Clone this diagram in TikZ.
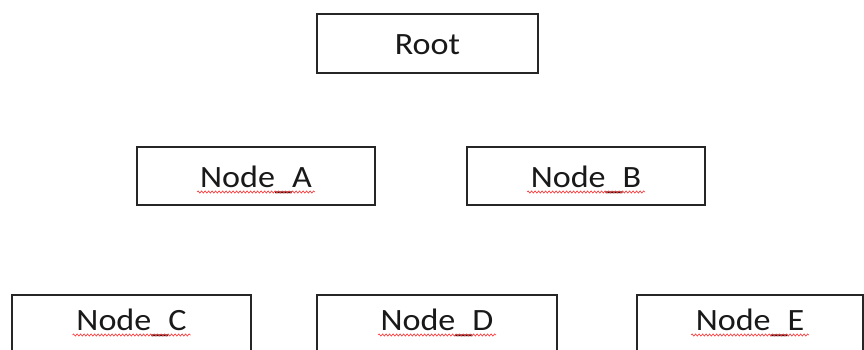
\documentclass[tikz,border=0pt]{standalone}
\usepackage{fontspec}
\setmainfont{Carlito}
\usetikzlibrary{decorations.pathmorphing,calc}
\newcommand{\lowus}{\raisebox{-2pt}{\_}}
\begin{document}
\begin{tikzpicture}[x=1pt,y=-1pt,
  box/.style={draw=black!85, line width=1.2pt, minimum width=#1, minimum height=58pt,
    inner sep=0pt, font=\fontsize{31}{36}\selectfont, text=black!90,
    text height=24pt, text depth=2pt},
  lowbox/.style={box=#1, text depth=12pt},
  squig/.style={draw=red!80, line width=0.6pt, decorate,
    decoration={snake, amplitude=1.1pt, segment length=3.5pt}}]
\clip (0,0) rectangle (864,349);
\fill[white] (0,0) rectangle (864,349);
\node[box=221pt, minimum height=59pt] (root) at (427.5,43.5) {\scalebox{1.1}[1]{Root}};
\node[box=238pt] (A) at (256,176) {\scalebox{1.1}[1]{Node\lowus A}};
\node[box=238pt] (B) at (586,176) {\scalebox{1.1}[1]{Node\lowus B}};
\node[lowbox=239pt] (C) at (131.5,324) {\scalebox{1.1}[1]{Node\lowus C}};
\node[lowbox=240pt] (D) at (437,324) {\scalebox{1.1}[1]{Node\lowus D}};
\node[lowbox=226pt] (E) at (750,324) {\scalebox{1.1}[1]{Node\lowus E}};
\foreach \n in {A,B}{
  \draw[squig] ($(\n.center)+(-59,16)$) -- ($(\n.center)+(59,16)$);
}
\foreach \n in {C,D,E}{
  \draw[squig] ($(\n.center)+(-59,11)$) -- ($(\n.center)+(59,11)$);
}
\end{tikzpicture}
\end{document}
